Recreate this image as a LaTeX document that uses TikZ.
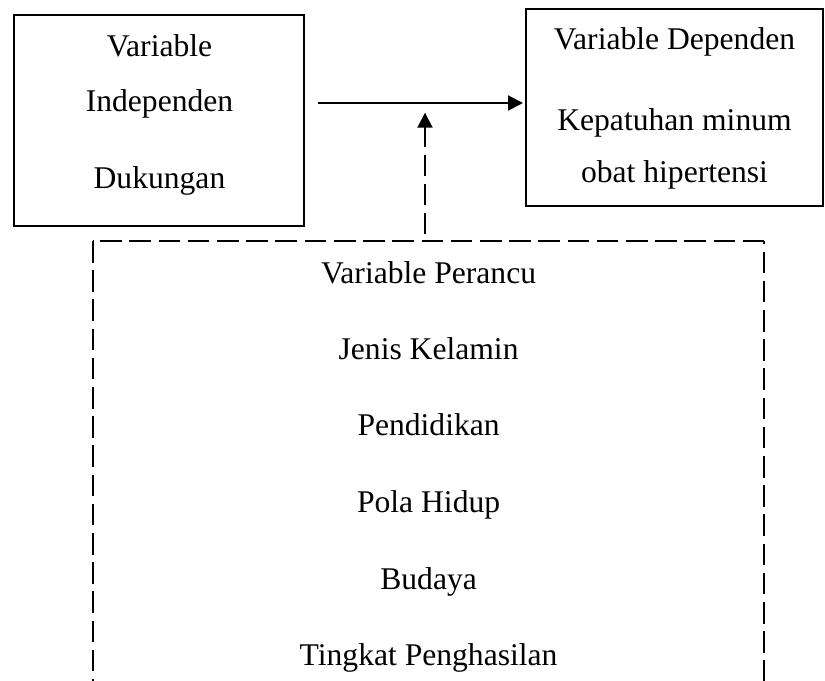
\documentclass[tikz,border=0pt]{standalone}
\usepackage{fontspec}
\setmainfont{Liberation Serif}
\usetikzlibrary{arrows.meta}
\begin{document}
\begin{tikzpicture}[x=1bp,y=-1bp,
  box/.style={draw, line width=2bp, rectangle, inner sep=0pt},
  lbl/.style={anchor=base, inner sep=0pt, font=\fontsize{31.6bp}{38bp}\selectfont},
  conn/.style={line width=2bp, -{Triangle[length=15bp,width=15bp]}},
  dashline/.style={line width=2bp, dash pattern=on 21.6bp off 7.6bp}]
\useasboundingbox (0,0) rectangle (825,681);
% boxes
\node[box, minimum width=290bp, minimum height=211bp] (indep) at (159,120.5) {};
\node[box, minimum width=296.5bp, minimum height=196.5bp] (dep) at (674.25,107.25) {};
% texts left
\node[lbl] (t1) at (159.5,56.7) {Variable};
\node[lbl] (t2) at (159.5,111.7) {Independen};
\node[lbl] (t3) at (159.5,188.3) {Dukungan};
% texts right
\node[lbl] (t4) at (674.5,50) {Variable Dependen};
\node[lbl] (t5) at (674.5,131) {Kepatuhan minum};
\node[lbl] (t6) at (674.5,182.7) {obat hipertensi};
% confounder texts
\node[lbl] (c1) at (428.6,283.3) {Variable Perancu};
\node[lbl] (c2) at (428.6,359) {Jenis Kelamin};
\node[lbl] (c3) at (428.6,435.7) {Pendidikan};
\node[lbl] (c4) at (428.6,512.3) {Pola Hidup};
\node[lbl] (c5) at (428.6,589) {Budaya};
\node[lbl] (c6) at (428.6,665) {Tingkat Penghasilan};
% arrow coordinates
\coordinate (hs) at (318,103);
\coordinate (he) at (523,103);
\coordinate (vs) at (425,234);
\coordinate (ve) at (425,112.7);
\draw[conn] (hs) -- (he);
\draw[conn, dash pattern=on 21bp off 8bp] (vs) -- (ve);
% dashed confounder frame (open at the bottom)
\coordinate (p1) at (92.5,681);
\coordinate (p2) at (92.5,241);
\coordinate (p3) at (764.3,241);
\coordinate (p4) at (764.3,681);
\draw[dashline] (p2) -- (p1);
\draw[dashline] (p3) -- (p2);
\draw[dashline, dash phase=18.7bp] (p3) -- (p4);
\end{tikzpicture}
\end{document}
